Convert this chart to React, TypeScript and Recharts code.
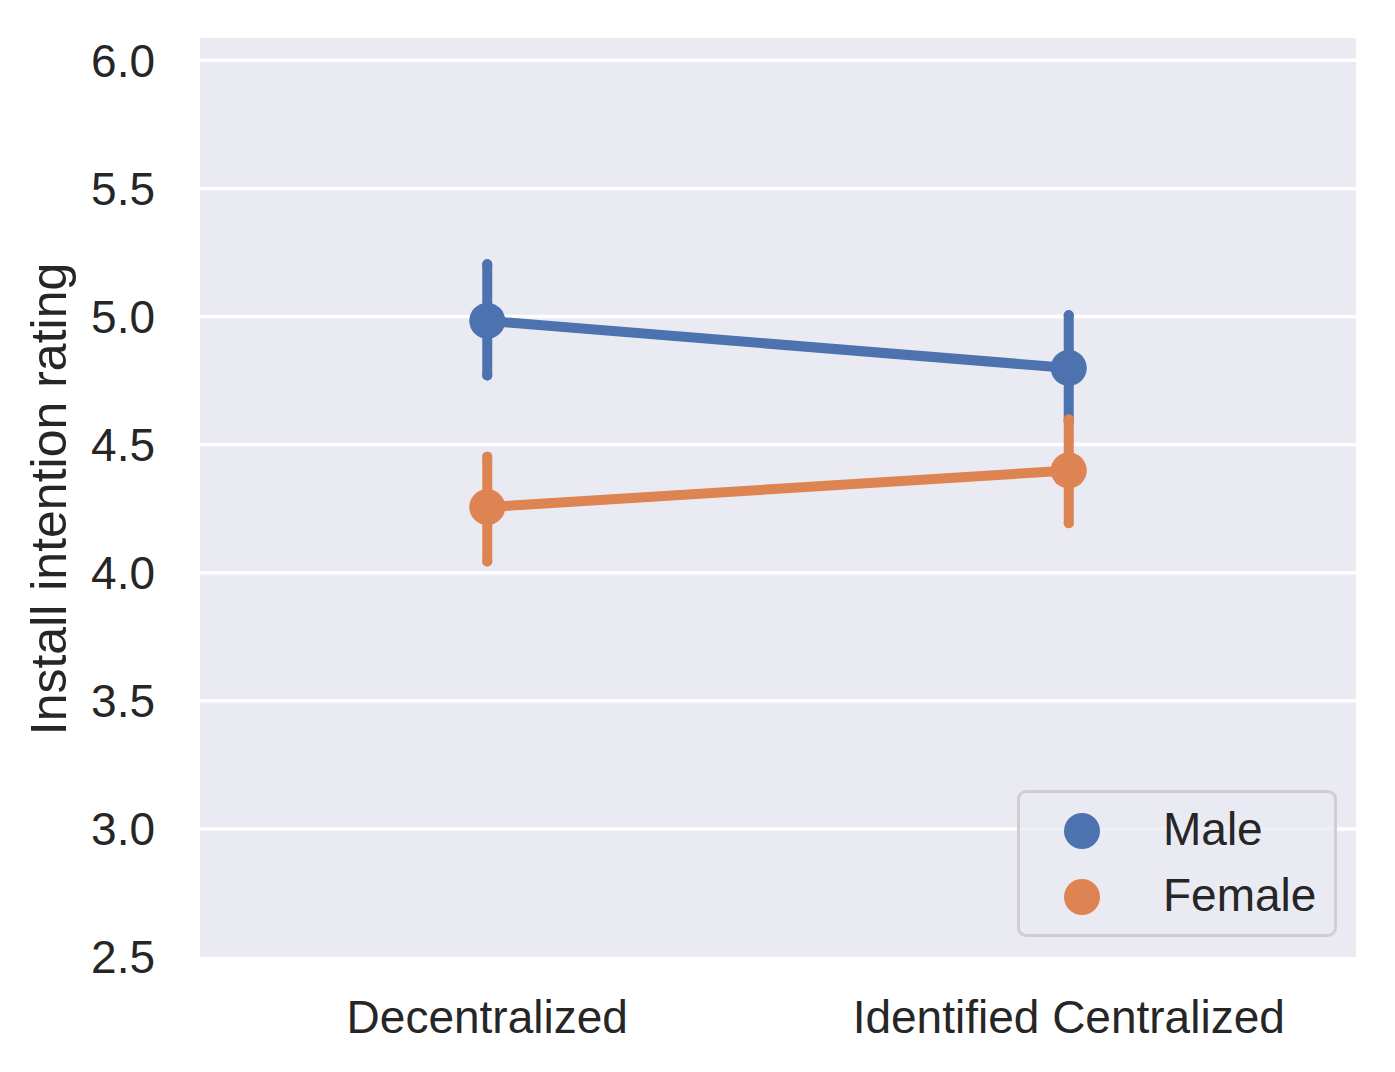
import { ComposedChart, Line, XAxis, YAxis, CartesianGrid, ErrorBar, Legend, Label } from 'recharts'

const categories = ['Decentralized', 'Identified Centralized']

// point estimates and CI bounds per category
const maleMean = [4.983, 4.799]
const maleLow = [4.77, 4.59]
const maleHigh = [5.204, 5.005]

const femaleMean = [4.256, 4.399]
const femaleLow = [4.044, 4.193]
const femaleHigh = [4.453, 4.598]

const yTicks = [2.5, 3.0, 3.5, 4.0, 4.5, 5.0, 5.5, 6.0]
const gridValues = [3.0, 3.5, 4.0, 4.5, 5.0, 5.5, 6.0]

const SERIES = [
  { key: 'male', name: 'Male', color: '#4C72B0' },
  { key: 'female', name: 'Female', color: '#DD8452' },
]

const FONT = '"Liberation Sans", Arial, sans-serif'
const TEXT = '#262626'

const data = categories.map((c, i) => ({
  idx: i,
  name: c,
  male: maleMean[i],
  maleErr: [maleMean[i] - maleLow[i], maleHigh[i] - maleMean[i]],
  female: femaleMean[i],
  femaleErr: [femaleMean[i] - femaleLow[i], femaleHigh[i] - femaleMean[i]],
}))

function LegendBox() {
  return (
    <div
      style={{
        position: 'relative',
        width: 320,
        height: 147,
        boxSizing: 'border-box',
        border: '3px solid #cfcfcf',
        borderRadius: 9,
        background: 'rgba(234,234,242,0.8)',
        fontFamily: FONT,
      }}
    >
      {SERIES.map((s, i) => (
        <div key={s.key}>
          <div
            style={{
              position: 'absolute',
              left: 44,
              top: 20 + i * 66,
              width: 36,
              height: 36,
              borderRadius: '50%',
              background: s.color,
            }}
          />
          <span
            style={{
              position: 'absolute',
              left: 143,
              top: 13 + i * 66,
              fontSize: 46,
              lineHeight: '46px',
              color: TEXT,
              whiteSpace: 'nowrap',
            }}
          >
            {s.name}
          </span>
        </div>
      ))}
    </div>
  )
}

export default function App() {
  return (
    <div style={{ position: 'absolute', left: 0, top: 0, background: '#fff' }}>
      <ComposedChart
        width={1395}
        height={1072}
        data={data}
        margin={{ top: 38, right: 39, bottom: 0, left: 0 }}
      >
        <CartesianGrid
          fill="#EAEAF2"
          stroke="#ffffff"
          strokeWidth={3.5}
          vertical={false}
          horizontalValues={gridValues}
        />
        <XAxis
          dataKey="idx"
          type="number"
          domain={[-0.494, 1.494]}
          ticks={[0, 1]}
          tickFormatter={(v) => categories[v] ?? ''}
          axisLine={false}
          tickLine={false}
          tickSize={0}
          tickMargin={43}
          height={115}
          allowDataOverflow
          tick={{ fill: TEXT, fontSize: 46, fontFamily: FONT }}
        />
        <YAxis
          type="number"
          domain={[2.5, 6.087]}
          ticks={yTicks}
          tickFormatter={(v) => Number(v).toFixed(1)}
          axisLine={false}
          tickLine={false}
          tickSize={0}
          tickMargin={45}
          width={200}
          tick={{ fill: TEXT, fontSize: 46, fontFamily: FONT }}
        >
          <Label
            content={() => (
              <text
                x={66}
                y={499}
                transform="rotate(-90 66 499)"
                textAnchor="middle"
                fill={TEXT}
                fontSize={50}
                fontFamily={FONT}
              >
                Install intention rating
              </text>
            )}
          />
        </YAxis>
        {SERIES.map((s) => (
          <Line
            key={s.key}
            dataKey={s.key}
            name={s.name}
            type="linear"
            stroke={s.color}
            strokeWidth={10}
            dot={{ r: 18, fill: s.color, stroke: s.color, strokeWidth: 0 }}
            activeDot={false}
            isAnimationActive={false}
          >
            <ErrorBar
              dataKey={`${s.key}Err`}
              direction="y"
              width={0}
              stroke={s.color}
              strokeWidth={10}
              strokeLinecap="round"
            />
          </Line>
        ))}
        <Legend
          layout="horizontal"
          verticalAlign="middle"
          align="center"
          wrapperStyle={{ left: 1017, top: 790, width: 320, height: 147 }}
          content={() => <LegendBox />}
        />
      </ComposedChart>
    </div>
  )
}
